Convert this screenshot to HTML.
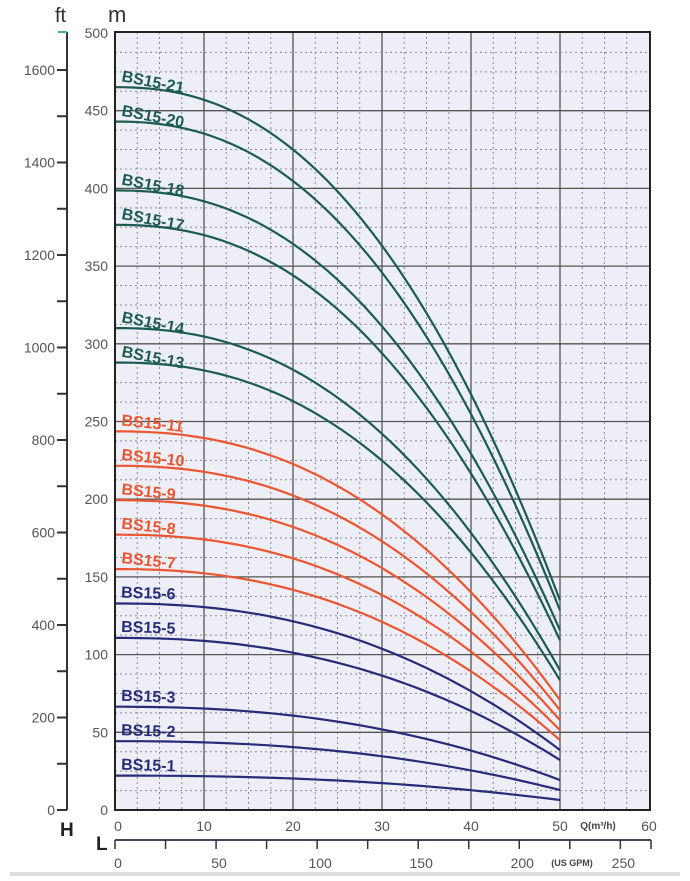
<!DOCTYPE html>
<html><head><meta charset="utf-8"><style>
html,body{margin:0;padding:0;background:#fff;}
svg{display:block;font-family:"Liberation Sans",sans-serif;}
</style></head><body>
<svg id="s" width="690" height="881" viewBox="0 0 690 881" xmlns="http://www.w3.org/2000/svg">
<rect x="0" y="0" width="690" height="881" fill="#fff"/>
<rect x="10" y="872" width="670" height="4" fill="#ddd"/>
<rect x="115" y="32" width="535" height="778" fill="#eeeef7"/>
<g id="grid"></g>
<g id="curves"></g>
<rect x="115" y="32" width="535" height="778" fill="none" stroke="#222" stroke-width="2"/>
<g id="axes"></g>
<text x="55" y="22" font-size="20" fill="#333">ft</text>
<text x="108" y="22" font-size="22" fill="#333">m</text>
<text x="60" y="836" font-size="19" font-weight="bold" fill="#222">H</text>
<text x="96" y="850" font-size="19" font-weight="bold" fill="#222">L</text>
</svg>
<script>
var NS="http://www.w3.org/2000/svg";
function el(p,t,a,txt){var e=document.createElementNS(NS,t);for(var k in a)e.setAttribute(k,a[k]);if(txt!==undefined)e.textContent=txt;document.getElementById(p).appendChild(e);return e;}
var X0=115,XS=8.9,Y0=810,YS=1.554;
function X(q){return X0+q*XS;} function Y(m){return Y0-m*YS;}
for(var q=2.5;q<60;q+=2.5){var maj=Math.abs(q%10)<0.01;
 el("grid","line",{x1:X(q),x2:X(q),y1:32,y2:810,stroke:maj?"#555":"#8a8a9a","stroke-width":maj?1.3:1,"stroke-dasharray":maj?"":"2,3"});}
for(var m=12.5;m<500;m+=12.5){var maj=Math.abs(m%50)<0.01;
 el("grid","line",{x1:115,x2:650,y1:Y(m),y2:Y(m),stroke:maj?"#555":"#8a8a9a","stroke-width":maj?1.3:1,"stroke-dasharray":maj?"":"2,3"});}
for(var m=0;m<=500;m+=50) el("axes","text",{x:108,y:Y(m)+5,"font-size":14,"text-anchor":"end",fill:"#555"},m);
el("axes","line",{x1:67,x2:67,y1:32,y2:810,stroke:"#333","stroke-width":2});
el("axes","line",{x1:58,x2:67,y1:32,y2:32,stroke:"#4ab","stroke-width":2});
for(var f=0;f<=1600;f+=100){var y=810-f*0.4625;
 el("axes","line",{x1:57,x2:67,y1:y,y2:y,stroke:"#333","stroke-width":2});
 if(f%200==0) el("axes","text",{x:55,y:y+5,"font-size":14,"text-anchor":"end",fill:"#555"},f);}
for(var q=0;q<=60;q+=10){ el("axes","text",{x:X(q)+(q==0?3:0),y:831,"font-size":14,"text-anchor":"middle",fill:"#555"},q);}
el("axes","text",{x:598,y:829,"font-size":10,"text-anchor":"middle",fill:"#444","font-weight":"bold"},"Q(m³/h)");
el("axes","line",{x1:115,x2:651,y1:840,y2:840,stroke:"#446","stroke-width":2});
for(var g=0;g<=275;g+=25){var x=X(g*0.22712);if(x>652)break;
 el("axes","line",{x1:x,x2:x,y1:840,y2:849,stroke:"#333","stroke-width":1.5});
 if(g%50==0) el("axes","text",{x:x+3,y:868,"font-size":14,"text-anchor":"middle",fill:"#555"},g);}
el("axes","line",{x1:651,x2:651,y1:840,y2:849,stroke:"#333","stroke-width":1.5});
el("axes","text",{x:572,y:866,"font-size":9,"text-anchor":"middle",fill:"#444","font-weight":"bold"},"(US GPM)");
var st=[[21,"#1b5c52"],[20,"#1b5c52"],[18,"#1b5c52"],[17,"#1b5c52"],[14,"#1b5c52"],[13,"#1b5c52"],
[11,"#ec5530"],[10,"#ec5530"],[9,"#ec5530"],[8,"#ec5530"],[7,"#ec5530"],
[6,"#262b7a"],[5,"#262b7a"],[3,"#262b7a"],[2,"#262b7a"],[1,"#262b7a"]];
var b=0.71/Math.pow(50,2.3);
function h(n,q){return n*22.15*(1-b*Math.pow(q,2.3));}
st.forEach(function(s){var n=s[0],d="";
 for(var q=0;q<=50.01;q+=1){d+=(q==0?"M":"L")+X(q).toFixed(1)+","+Y(h(n,q)).toFixed(1);}
 el("curves","path",{d:d,fill:"none",stroke:s[1],"stroke-width":2.2});
 var ang=n>=13?11:(n>=7?6:2);
 var y0=Y(h(n,0))-6;
 el("curves","text",{x:121,y:y0,"font-size":16,"font-weight":"bold",fill:s[1],transform:"rotate("+ang+" 121 "+y0+")"},"BS15-"+n);
});
</script>
</body></html>
